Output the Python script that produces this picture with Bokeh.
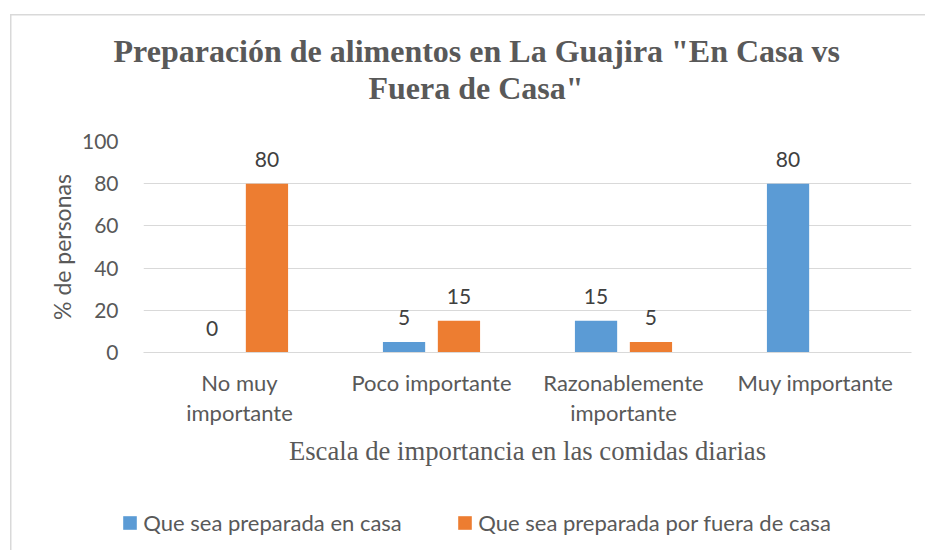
from bokeh.plotting import figure
from bokeh.models import Range1d, Title, ColumnDataSource, LinearAxis, Legend, LegendItem, FixedTicker
from bokeh.layouts import column
from bokeh.transform import dodge
from bokeh.embed import file_html
from bokeh.resources import INLINE
from bokeh.core.properties import value

# ---- data ----
categories = ["No muy importante", "Poco importante", "Razonablemente importante", "Muy importante"]
tick_line1 = ["No muy", "Poco importante", "Razonablemente", "Muy importante"]
tick_line2 = ["importante", "", "importante", ""]
casa = [0, 5, 15, 80]
fuera = [80, 15, 5, None]
series_names = ["Que sea preparada en casa", "Que sea preparada por fuera de casa"]
series_colors = ["#5B9BD5", "#ED7D31"]
y_ticks = [0, 20, 40, 60, 80, 100]
title_lines = ['Preparación de alimentos en La Guajira "En Casa vs', 'Fuera de Casa"']
x_title = "Escala de importancia en las comidas diarias"
y_title = "% de personas"

GRAY = "#595959"
GRID = "#d9d9d9"
SANS = "Lato"
SERIF = "Liberation Serif"
nan = float("nan")

# category centres on a numeric scale (one unit per category)
xc = [i + 0.5 for i in range(len(categories))]

p = figure(width=925, height=480, x_range=Range1d(0, len(categories)), y_range=Range1d(0, 100),
           output_backend="svg", toolbar_location=None, title=None,
           min_border_left=143, min_border_top=141, min_border_right=14, min_border_bottom=128)
p.frame_align = False
p.outline_line_color = None
p.border_fill_alpha = 0
p.styles = {"background": (f"linear-gradient({GRID}, {GRID}) 10px 14px / 1.5px calc(100% - 14px) no-repeat, "
                           f"linear-gradient({GRID}, {GRID}) 10px 14px / calc(100% - 10px) 1.5px no-repeat, #ffffff")}

src = ColumnDataSource(dict(
    xc=xc,
    casa=[nan if v is None else v for v in casa],
    fuera=[nan if v is None else v for v in fuera],
))

off = 0.143
bw = 0.22
p.vbar(x=dodge("xc", -off), top="casa", width=bw, source=src,
       fill_color=series_colors[0], line_color=None)
p.vbar(x=dodge("xc", off), top="fuera", width=bw, source=src,
       fill_color=series_colors[1], line_color=None)

# data labels
for vals, o in ((casa, -off), (fuera, off)):
    xs = [x for x, v in zip(xc, vals) if v is not None]
    vv = [v for v in vals if v is not None]
    ls = ColumnDataSource(dict(xc=xs, v=vv, t=[str(v) for v in vv]))
    p.text(x=dodge("xc", o), y="v", text="t", source=ls,
           text_align="center", text_baseline="alphabetic", y_offset=-24,
           text_font=value(SANS), text_font_size="21px", text_color="#404040")

# y axis
p.yaxis.ticker = y_ticks
p.ygrid.ticker = y_ticks
p.ygrid.grid_line_color = GRID
p.xgrid.grid_line_color = None
p.yaxis.axis_line_color = None
p.yaxis.major_tick_line_color = None
p.yaxis.major_tick_out = 0
p.yaxis.minor_tick_line_color = None
p.yaxis.major_label_standoff = 25
p.yaxis.major_label_text_font = SANS
p.yaxis.major_label_text_font_size = "21px"
p.yaxis.major_label_text_color = GRAY
p.yaxis.axis_label = y_title
p.yaxis.axis_label_text_font = SANS
p.yaxis.axis_label_text_font_size = "23px"
p.yaxis.axis_label_text_font_style = "normal"
p.yaxis.axis_label_text_color = GRAY
p.yaxis.axis_label_standoff = 3

# x axis: first line of the category labels
xa = p.xaxis[0]
xa.ticker = FixedTicker(ticks=xc)
xa.axis_line_color = GRID
xa.major_tick_line_color = None
xa.minor_tick_line_color = None
xa.major_tick_out = 0
xa.major_label_overrides = dict(zip(xc, tick_line1))
xa.major_label_standoff = 16
xa.major_label_text_font = SANS
xa.major_label_text_font_size = "22px"
xa.major_label_text_color = GRAY

# second x axis: second line of the labels + axis title
xa2 = LinearAxis(ticker=FixedTicker(ticks=xc), axis_line_color=None, major_tick_line_color=None,
                 minor_tick_line_color=None, major_tick_out=0,
                 major_label_overrides=dict(zip(xc, tick_line2)),
                 major_label_standoff=0,
                 major_label_text_font=SANS, major_label_text_font_size="22px",
                 major_label_text_color=GRAY,
                 axis_label=x_title, axis_label_text_font=SERIF,
                 axis_label_text_font_size="26.7px", axis_label_text_font_style="normal",
                 axis_label_text_color=GRAY, axis_label_standoff=7)
p.add_layout(xa2, "below")

# title: two lines, the one nearest the plot added first
p.add_layout(Title(text=title_lines[1], align="left", offset=225, standoff=72,
                   text_font=SERIF, text_font_style="bold", text_font_size="32px",
                   text_color=GRAY), "above")
p.add_layout(Title(text=title_lines[0], align="left", offset=-30, standoff=-74,
                   text_font=SERIF, text_font_style="bold", text_font_size="32px",
                   text_color=GRAY), "above")

# legend strip below the chart
pl = figure(width=925, height=70, x_range=Range1d(0, 1), y_range=Range1d(0, 1),
            output_backend="svg", toolbar_location=None, title=None,
            min_border_left=0, min_border_right=0, min_border_top=0, min_border_bottom=0)
pl.frame_align = False
pl.axis.visible = False
pl.grid.visible = False
pl.outline_line_color = None
pl.border_fill_alpha = 0
pl.background_fill_alpha = 0
pl.styles = {"background": f"linear-gradient({GRID}, {GRID}) 10px 0px / 1.5px 100% no-repeat, #ffffff"}
lr = [pl.vbar(x=[nan], top=[nan], width=0.1, fill_color=c, line_color=None) for c in series_colors]
legend = Legend(items=[LegendItem(label=n, renderers=[r]) for n, r in zip(series_names, lr)],
                location=(121.3, 14), orientation="horizontal",
                glyph_width=17, glyph_height=17, label_standoff=5, spacing=51,
                padding=0, margin=0, label_width=262, label_height=24,
                label_text_font=SANS, label_text_font_size="22px", label_text_color=GRAY,
                border_line_color=None, background_fill_alpha=0)
pl.add_layout(legend, "center")

layout = column(p, pl, spacing=0)
open("out.html", "w").write(file_html(layout, INLINE))
